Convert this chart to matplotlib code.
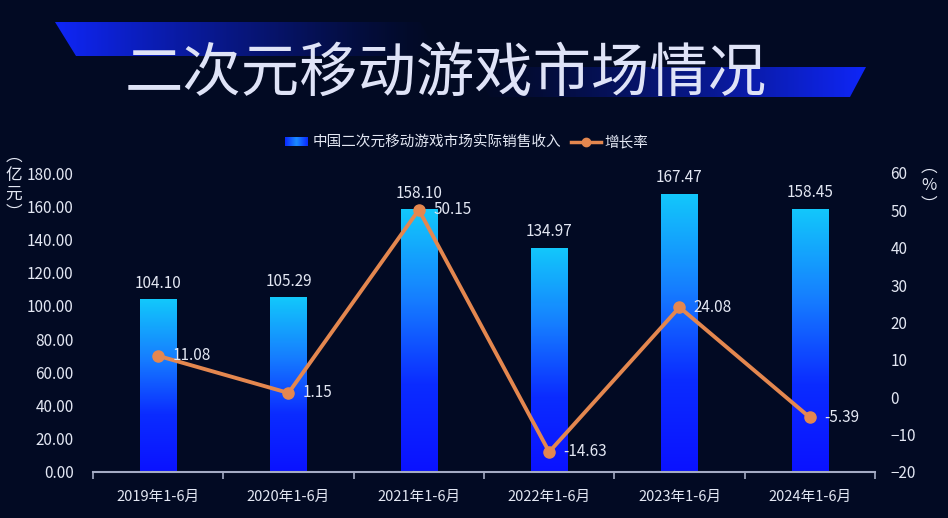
import numpy as np
import matplotlib.pyplot as plt
from matplotlib.colors import LinearSegmentedColormap
from matplotlib.patches import Polygon, Rectangle
from matplotlib.lines import Line2D

plt.rcParams['font.family'] = ['Noto Sans CJK SC', 'DejaVu Sans']

# data
periods = ['2019年1-6月', '2020年1-6月', '2021年1-6月', '2022年1-6月', '2023年1-6月', '2024年1-6月']
revenue = [104.10, 105.29, 158.10, 134.97, 167.47, 158.45]
growth = [11.08, 1.15, 50.15, -14.63, 24.08, -5.39]
left_ticks = [0, 20, 40, 60, 80, 100, 120, 140, 160, 180]
right_ticks = [-20, -10, 0, 10, 20, 30, 40, 50, 60]

bg = '#020a23'
txt = '#e3e7f3'
orange = '#e4874f'
bar_cmap = LinearSegmentedColormap.from_list('bars', ['#0a12ff', '#0b2cff', '#1680ff', '#12c8fb'])

W, H = 948, 518
fig = plt.figure(figsize=(W / 100, H / 100), dpi=100, facecolor=bg)

# overlay in pixel coords for the title banner
deco = fig.add_axes([0, 0, 1, 1], zorder=0)
deco.set_xlim(0, W)
deco.set_ylim(H, 0)
deco.axis('off')
deco.patch.set_alpha(0)

def banner(pts, x0, x1, fade_right):
    poly = Polygon(pts, closed=True, facecolor='none', edgecolor='none')
    deco.add_patch(poly)
    g = np.linspace(1, 0, 256) if fade_right else np.linspace(0, 1, 256)
    rgba = np.zeros((1, 256, 4))
    rgba[..., 0] = 0.06
    rgba[..., 1] = 0.15
    rgba[..., 2] = 0.98
    rgba[..., 3] = g ** 1.3
    ys = [p[1] for p in pts]
    im = deco.imshow(rgba, extent=[x0, x1, max(ys), min(ys)], aspect='auto', interpolation='bilinear')
    im.set_clip_path(poly)

banner([(55, 22), (420, 22), (440, 56), (76, 56)], 55, 440, True)
banner([(470, 67), (866, 67), (850, 97), (490, 97)], 470, 866, False)

deco.text(446, 74, '二次元移动游戏市场情况', color='#dfe3f7', fontsize=42,
          fontweight='light', ha='center', va='center')

# legend drawn by hand
lg = np.linspace(0, 1, 64).reshape(1, -1)
leg_rect = Rectangle((285, 137), 23, 9, facecolor='none', edgecolor='none')
deco.add_patch(leg_rect)
li = deco.imshow(lg, extent=[285, 308, 146, 137], aspect='auto',
                 cmap=LinearSegmentedColormap.from_list('l', ['#0a2aff', '#1a8cff', '#0a2aff']))
li.set_clip_path(leg_rect)
deco.text(313, 142, '中国二次元移动游戏市场实际销售收入', color=txt, fontsize=10.5, va='center')
deco.add_line(Line2D([571, 601], [142, 142], color=orange, lw=2.5))
deco.plot([586], [142], 'o', color=orange, ms=6)
deco.text(604, 142, '增长率', color=txt, fontsize=10.5, va='center')

# axis unit labels
deco.text(14, 185, '︵\n亿\n元\n︶', color=txt, fontsize=12, ha='center', va='center', linespacing=1.15)
deco.text(929, 186, '︵\n%\n︶', color=txt, fontsize=12, ha='center', va='center', linespacing=1.15)

# main chart
ax = fig.add_axes([93 / W, 1 - 472 / H, (875 - 93) / W, (472 - 173) / H], zorder=1)
ax.patch.set_alpha(0)
x = np.arange(len(periods))
bars = ax.bar(x, revenue, width=0.28, color='none', edgecolor='none', zorder=2)
grad = np.linspace(0, 1, 256).reshape(-1, 1)
for b in bars:
    x0, y0 = b.get_x(), b.get_y()
    im = ax.imshow(grad, extent=[x0, x0 + b.get_width(), y0, y0 + b.get_height()],
                   origin='lower', aspect='auto', cmap=bar_cmap, zorder=2)
    im.set_clip_path(b)
    ax.text(b.get_x() + b.get_width() / 2, b.get_height() + 4.5, f'{b.get_height():.2f}',
            color=txt, fontsize=11, ha='center', va='bottom')

ax.set_xlim(-0.5, len(periods) - 0.5)
ax.set_ylim(0, 180)
ax.set_yticks(left_ticks)
ax.set_yticklabels([f'{t:.2f}' for t in left_ticks])
ax.set_xticks(x)
ax.set_xticklabels(periods)
ax.set_xticks(np.arange(len(periods) + 1) - 0.5, minor=True)
ax.tick_params(axis='x', which='major', length=0, pad=13, colors=txt, labelsize=10.5)
ax.tick_params(axis='x', which='minor', length=5, width=1.2, color='#a4abc4')
ax.tick_params(axis='y', length=0, pad=14, colors=txt, labelsize=11)
for s in ['top', 'left', 'right']:
    ax.spines[s].set_visible(False)
ax.spines['bottom'].set_color('#a4abc4')
ax.spines['bottom'].set_linewidth(1.5)

ax2 = ax.twinx()
ax2.set_ylim(-20, 60)
ax2.set_yticks(right_ticks)
ax2.tick_params(axis='y', length=0, pad=11, colors=txt, labelsize=11)
for s in ['top', 'left', 'right', 'bottom']:
    ax2.spines[s].set_visible(False)
ax2.plot(x, growth, color=orange, lw=2.8, marker='o', ms=8, zorder=3)
for xi, g in zip(x, growth):
    ax2.text(xi + 0.11, g, f'{g:.2f}', color=txt, fontsize=11, ha='left', va='center')

fig.savefig('out.png', dpi=100, facecolor=bg)
